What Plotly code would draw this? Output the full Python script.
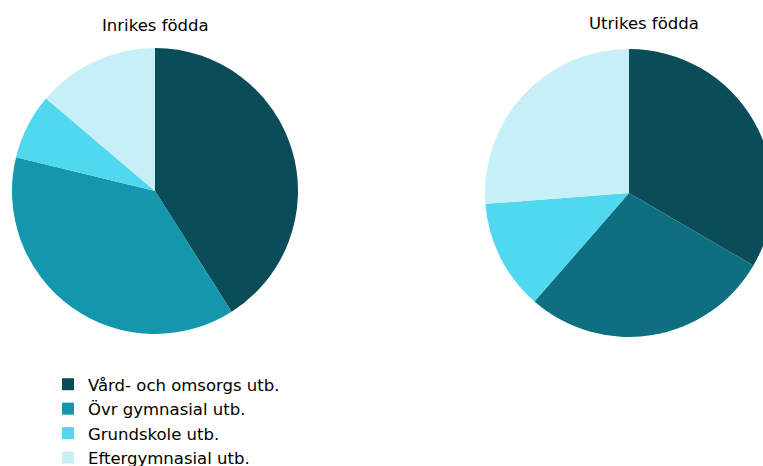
import plotly.graph_objects as go

labels = ["Vård- och omsorgs utb.", "Övr gymnasial utb.", "Grundskole utb.", "Eftergymnasial utb."]
inrikes_values = [41.0, 37.8, 7.4, 13.8]
utrikes_values = [33.4, 28.0, 12.4, 26.2]
inrikes_colors = ["#0a4d58", "#1496ad", "#50d8ee", "#c6eff8"]
utrikes_colors = ["#0a4d58", "#0d6f80", "#50d8ee", "#c6eff8"]
titles = ["Inrikes födda", "Utrikes födda"]

# figure is slightly larger than the 763x466 window: the right pie and the
# last legend row are cut by the window edge, as in the reference
W, H = 773, 490
FONT = "DejaVu Sans, Liberation Sans, Arial, sans-serif"


def dom(x0, x1, y0, y1):
    return dict(x=[x0 / W, x1 / W], y=[1 - y1 / H, 1 - y0 / H])


fig = go.Figure()
fig.add_trace(go.Pie(
    labels=labels, values=inrikes_values, sort=False, direction="clockwise", rotation=0,
    marker=dict(colors=inrikes_colors, line=dict(width=0)), textinfo="none", hoverinfo="label+percent",
    domain=dom(12, 298, 48, 334), showlegend=True,
))
fig.add_trace(go.Pie(
    labels=labels, values=utrikes_values, sort=False, direction="clockwise", rotation=0,
    marker=dict(colors=utrikes_colors, line=dict(width=0)), textinfo="none", hoverinfo="label+percent",
    domain=dom(485, 773, 49, 337), showlegend=False,
))

fig.add_annotation(text=titles[0], x=155 / W, y=1 - 26 / H, xref="paper", yref="paper",
                   showarrow=False, font=dict(size=16.5, color="#000000", family=FONT),
                   xanchor="center", yanchor="middle")
fig.add_annotation(text=titles[1], x=644 / W, y=1 - 23 / H, xref="paper", yref="paper",
                   showarrow=False, font=dict(size=16.5, color="#000000", family=FONT),
                   xanchor="center", yanchor="middle")

fig.update_layout(
    width=W, height=H,
    margin=dict(l=0, r=0, t=0, b=0),
    paper_bgcolor="white", plot_bgcolor="white",
    font=dict(family=FONT, color="#000000"),
    legend=dict(x=48 / W, y=1 - 367 / H, xanchor="left", yanchor="top",
                font=dict(size=16.5, family=FONT), tracegroupgap=0,
                bgcolor="rgba(0,0,0,0)"),
)

fig.write_html(
    "out.html",
    config={"displayModeBar": False},
    post_script="document.body.style.margin='0';document.body.style.overflow='hidden';",
)
